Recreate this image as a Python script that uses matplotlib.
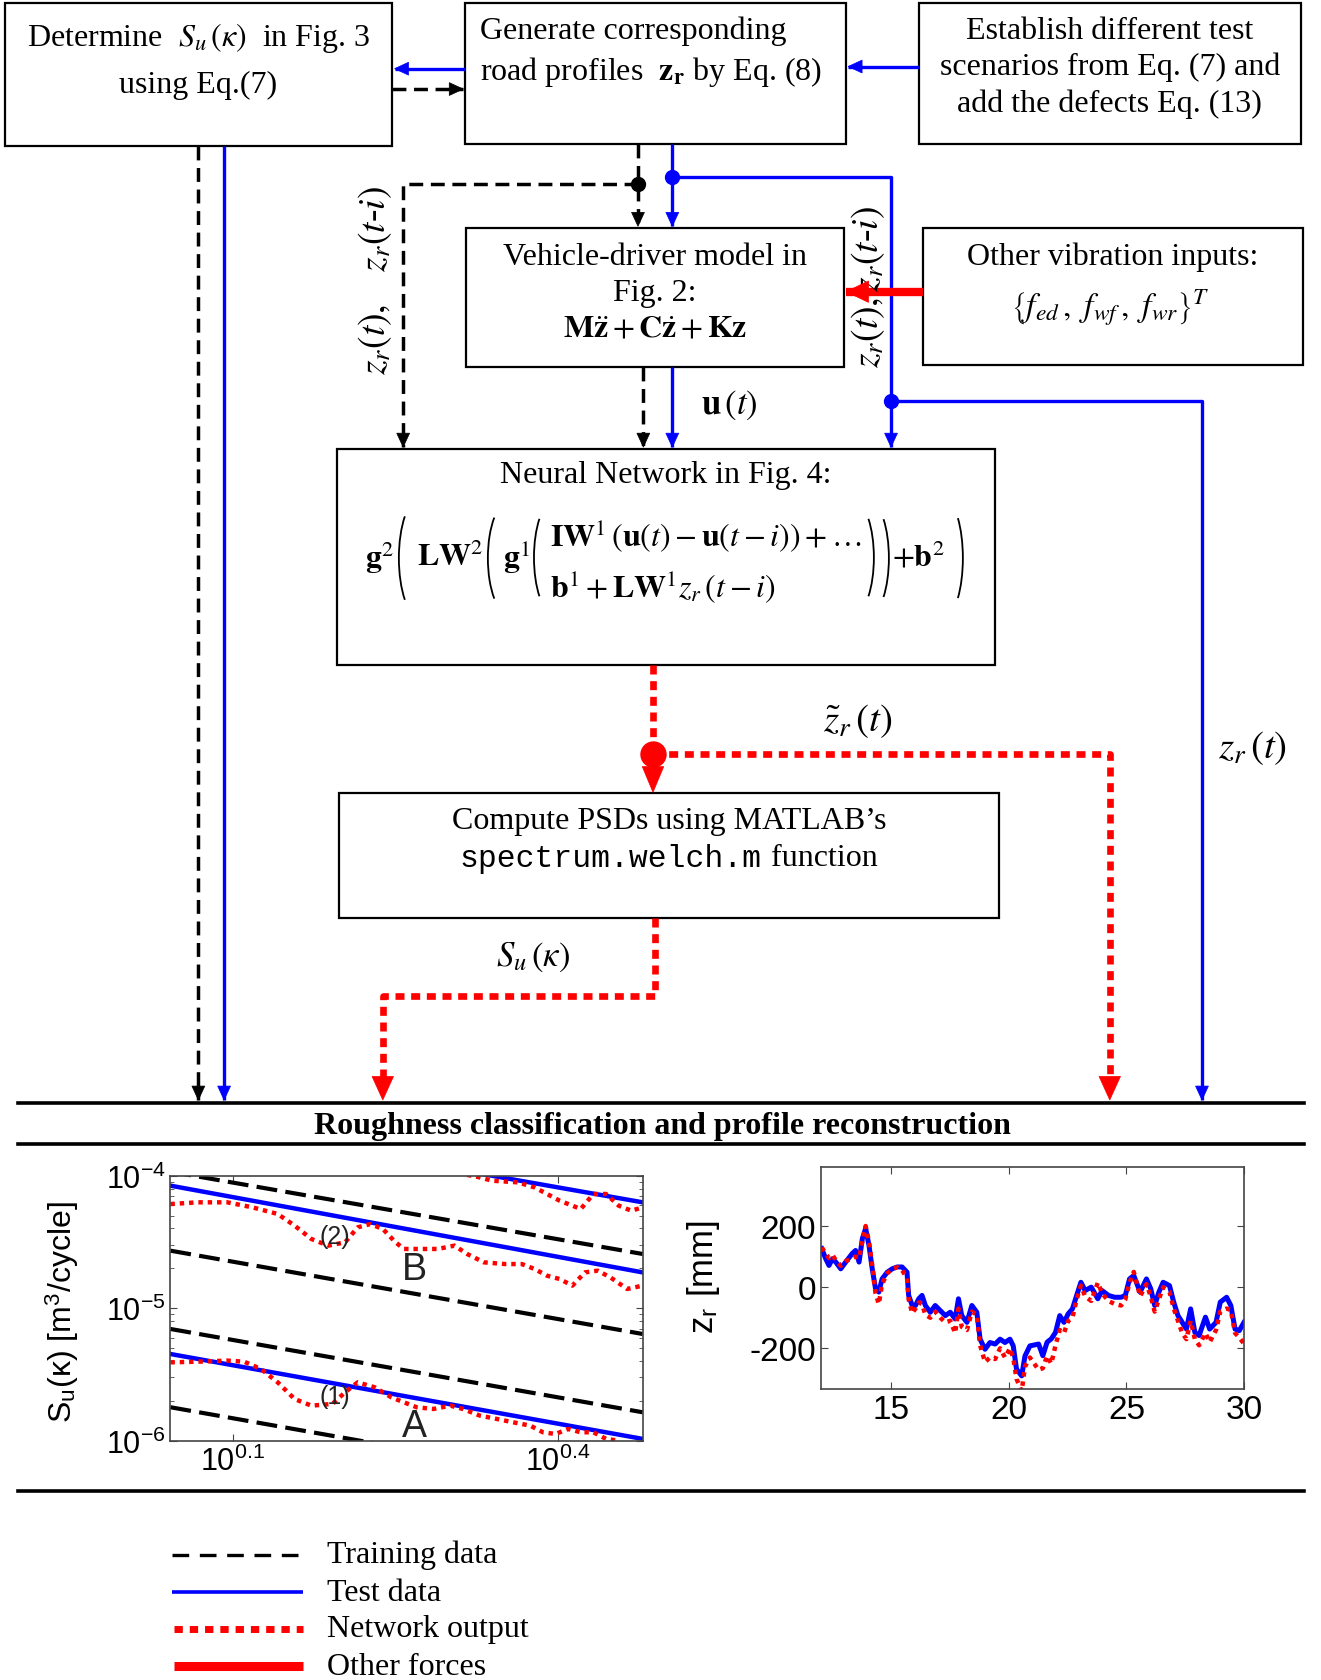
import matplotlib as mpl
mpl.use('Agg')
import numpy as np
import matplotlib.pyplot as plt
from matplotlib.patches import Rectangle, Polygon, Arc
from matplotlib.ticker import NullLocator

plt.rcParams['font.family'] = 'Liberation Serif'
plt.rcParams['mathtext.fontset'] = 'stix'
plt.rcParams['axes.unicode_minus'] = False

# ---- PSD panel (log10 wavenumber, log10 PSD) ----
lk_edges = [0.0425, 0.4786]
train_lS = [[-3.970, -4.591], [-4.566, -5.195], [-5.157, -5.786], [-5.748, -6.377]]
test_lS = [[-3.572, -4.201], [-4.075, -4.730], [-5.346, -5.987]]

net_top_lk = [0.2737, 0.2932, 0.3243, 0.3398, 0.3631, 0.3787, 0.3903, 0.4020,
              0.4137, 0.4214, 0.4331, 0.4448, 0.4564, 0.4681, 0.4786]
net_top_lS = [-3.975, -3.962, -4.005, -4.038, -4.050, -4.088, -4.138, -4.189,
              -4.226, -4.252, -4.138, -4.138, -4.226, -4.264, -4.239]

net_b_lk = [0.0425, 0.0678, 0.0950, 0.1183, 0.1416, 0.1572, 0.1727, 0.1882, 0.2038, 0.2154,
            0.2271, 0.2388, 0.2504, 0.2582, 0.2737, 0.2893, 0.3048, 0.3165, 0.3320, 0.3515,
            0.3670, 0.3787, 0.3903, 0.4020, 0.4137, 0.4253, 0.4370, 0.4487, 0.4642, 0.4786]
net_b_lS = [-4.214, -4.201, -4.201, -4.239, -4.289, -4.377, -4.478, -4.528, -4.503, -4.390,
            -4.365, -4.403, -4.503, -4.553, -4.553, -4.553, -4.528, -4.591, -4.654, -4.667,
            -4.667, -4.704, -4.755, -4.780, -4.830, -4.730, -4.717, -4.767, -4.855, -4.830]

net_a_lk = [0.0425, 0.0678, 0.0950, 0.1105, 0.1261, 0.1416, 0.1572, 0.1727, 0.1921, 0.2038,
            0.2154, 0.2310, 0.2465, 0.2582, 0.2699, 0.2854, 0.3009, 0.3126, 0.3282, 0.3437,
            0.3593, 0.3748, 0.3865, 0.3981, 0.4098, 0.4214, 0.4331, 0.4448, 0.4564]
net_a_lS = [-5.409, -5.404, -5.396, -5.404, -5.459, -5.560, -5.686, -5.736, -5.723, -5.635,
            -5.560, -5.597, -5.673, -5.711, -5.748, -5.761, -5.736, -5.761, -5.811, -5.836,
            -5.862, -5.887, -5.937, -5.950, -5.912, -5.937, -5.937, -5.987, -6.000]

psd_labels = ['(2)', 'B', '(1)', 'A']
psd_label_lk = [0.194, 0.268, 0.194, 0.268]
psd_label_lS = [-4.453, -4.704, -5.660, -5.887]

# ---- road profile panel ----
prof_x = [12.03, 12.20, 12.34, 12.49, 12.63, 12.84, 13.05, 13.33, 13.47, 13.62,
          13.76, 13.90, 14.04, 14.18, 14.32, 14.46, 14.60, 14.82, 15.03, 15.24,
          15.45, 15.66, 15.73, 15.88, 16.02, 16.16, 16.30, 16.44, 16.65, 16.86,
          17.08, 17.29, 17.50, 17.71, 17.85, 17.99, 18.21, 18.42, 18.63, 18.77,
          18.98, 19.19, 19.41, 19.62, 19.83, 20.04, 20.18, 20.32, 20.54, 20.68,
          20.89, 21.26, 21.44, 21.62, 21.80, 21.98, 22.16, 22.34, 22.52, 22.70,
          22.88, 23.06, 23.24, 23.50, 23.78, 23.96, 24.23, 24.50, 24.77, 24.95,
          25.13, 25.31, 25.58, 25.85, 26.03, 26.20, 26.38, 26.56, 26.83, 27.01,
          27.19, 27.37, 27.55, 27.73, 27.91, 28.09, 28.36, 28.54, 28.81, 28.99,
          29.26, 29.44, 29.62, 29.80, 30.00]
prof_test = [126, 93, 71, 93, 82, 60, 82, 110, 120, 82,
             159, 192, 137, 60, -5, -16, 27, 49, 60, 66,
             66, 49, -27, -60, -60, -38, -27, -60, -82, -60,
             -77, -93, -82, -104, -38, -93, -115, -60, -82, -170,
             -203, -181, -186, -170, -181, -170, -192, -268, -290, -225,
             -192, -186, -224, -180, -169, -148, -93, -115, -87, -71,
             -27, 16, -11, 0, -38, -11, -27, -33, -33, -27,
             27, 38, -16, 27, -5, -60, -16, 16, 5, -49,
             -93, -115, -137, -71, -148, -158, -98, -137, -115, -49,
             -33, -60, -137, -142, -115]
prof_net = [130, 110, 95, 105, 88, 70, 85, 95, 100, 95,
            150, 200, 150, 70, -20, -55, 10, 45, 60, 65,
            55, 30, -40, -85, -70, -50, -55, -90, -100, -80,
            -100, -115, -110, -150, -70, -130, -140, -80, -90, -190,
            -245, -230, -235, -200, -230, -200, -230, -300, -340, -260,
            -230, -270, -265, -225, -250, -190, -140, -150, -110, -100,
            -40, 5, -30, -45, 15, -20, -45, -55, -60, -40,
            15, 50, -30, 10, -30, -80, -40, 0, -15, -70,
            -110, -150, -170, -110, -170, -190, -150, -180, -140, -80,
            -70, -75, -150, -165, -185]

legend_names = ['Training data', 'Test data', 'Network output', 'Other forces']

BLUE = '#0000ff'
RED = '#ff0000'
DASH = (0, (4, 2.2))
DOTS = (0, (1.35, 1.0))

fig = plt.figure(figsize=(13.21, 16.81), dpi=100)
ax = fig.add_axes([0, 0, 1, 1])
ax.set_xlim(0, 1232)
ax.set_ylim(1568, 0)
ax.axis('off')


def box(x0, y0, x1, y1):
    ax.add_patch(Rectangle((x0, y0), x1 - x0, y1 - y0, fill=False, lw=1.6, ec='black'))


def head(x, y, d, c, L=13, W=6):
    if d == 'd':
        pts = [(x, y), (x - W, y - L), (x + W, y - L)]
    elif d == 'l':
        pts = [(x, y), (x + L, y - W), (x + L, y + W)]
    else:
        pts = [(x, y), (x - L, y - W), (x - L, y + W)]
    ax.add_patch(Polygon(pts, closed=True, fc=c, ec=c, lw=0.5, zorder=4))


def path(xs, ys, c, ls='-', lw=2.4, tip=None, L=13, W=6):
    ax.plot(xs, ys, color=c, ls=ls, lw=lw, solid_capstyle='butt',
            dash_capstyle='butt', zorder=3)
    if tip:
        head(xs[-1], ys[-1], tip, c, L, W)


def paren(x0, x1, y0, y1, side):
    w = x1 - x0
    a = w / 0.658
    b = (y1 - y0) / 1.88
    cy = (y0 + y1) / 2
    if side == 'l':
        ax.add_patch(Arc((x0 + a, cy), 2 * a, 2 * b, theta1=110, theta2=250, lw=1.3))
    else:
        ax.add_patch(Arc((x1 - a, cy), 2 * a, 2 * b, theta1=-70, theta2=70, lw=1.3))


FS = 23

# boxes
box(5, 4, 366, 137)
box(434, 4, 789, 135)
box(857, 4, 1213, 135)
box(435, 214, 787, 343)
box(861, 214, 1215, 341)
box(314, 420, 928, 621)
box(316, 741, 932, 857)

ax.text(185, 35, r'Determine  $S_u\,(\kappa)$  in Fig. 3', ha='center', va='center', fontsize=FS)
ax.text(185, 80, 'using Eq.(7)', ha='center', va='center', fontsize=FS)
ax.text(448, 29, 'Generate corresponding', ha='left', va='center', fontsize=FS)
ax.text(448, 67, r'road profiles  $\mathbf{z}_\mathbf{r}$ by Eq. (8)', ha='left', va='center', fontsize=FS)
ax.text(1035, 29, 'Establish different test', ha='center', va='center', fontsize=FS)
ax.text(1035, 63, 'scenarios from Eq. (7) and', ha='center', va='center', fontsize=FS)
ax.text(1035, 97, 'add the defects Eq. (13)', ha='center', va='center', fontsize=FS)
ax.text(611, 240, 'Vehicle-driver model in', ha='center', va='center', fontsize=FS)
ax.text(611, 274, 'Fig. 2:', ha='center', va='center', fontsize=FS)
ax.text(611, 308, r'$\mathbf{M}\ddot{\mathbf{z}}+\mathbf{C}\dot{\mathbf{z}}+\mathbf{K}\mathbf{z}$',
        ha='center', va='center', fontsize=FS)
ax.text(1038, 240, 'Other vibration inputs:', ha='center', va='center', fontsize=FS)
ax.text(1035, 287, r'$\left\{f_{ed}\,,\ f_{wf}\,,\ f_{wr}\right\}^T$', ha='center', va='center', fontsize=24)
ax.text(621, 444, 'Neural Network in Fig. 4:', ha='center', va='center', fontsize=FS)

# network expression
ax.text(340, 520, r'$\mathbf{g}^2$', ha='left', va='center', fontsize=FS)
paren(372, 385, 469, 574, 'l')
ax.text(389, 520, r'$\mathbf{LW}^2$', ha='left', va='center', fontsize=FS)
paren(455, 468, 472, 571, 'l')
ax.text(469, 520, r'$\mathbf{g}^1$', ha='left', va='center', fontsize=FS)
paren(498, 510, 472, 570, 'l')
ax.text(513, 500, r'$\mathbf{IW}^1\,(\mathbf{u}(t)-\mathbf{u}(t-i))+\ldots$', ha='left', va='center', fontsize=FS)
ax.text(513, 547, r'$\mathbf{b}^1+\mathbf{LW}^1z_r\,(t-i)$', ha='left', va='center', fontsize=FS)
paren(803, 815, 472, 570, 'r')
paren(817, 829, 472, 571, 'r')
ax.text(832, 520, r'$+\mathbf{b}^2$', ha='left', va='center', fontsize=FS)
paren(886, 898, 469, 574, 'r')

ax.text(624, 766, 'Compute PSDs using MATLAB\u2019s', ha='center', va='center', fontsize=FS)
ax.text(428, 801, 'spectrum.welch.m', ha='left', va='center', fontsize=22.6,
        family='Liberation Mono')
ax.text(719, 801, 'function', ha='left', va='center', fontsize=FS)

# links between the top boxes
path([434, 368], [65, 65], BLUE, tip='l')
path([366, 432], [84, 84], 'black', ls=DASH, lw=2.5, tip='r')
path([857, 791], [63, 63], BLUE, tip='l')

# long feeds to the bottom block
path([185, 185], [137, 1027], 'black', ls=DASH, lw=2.5, tip='d')
path([209, 209], [137, 1027], BLUE, tip='d')

# from road profile generator
path([595, 595], [135, 212], 'black', ls=DASH, lw=2.5, tip='d')
path([595, 376, 376], [173, 173, 418], 'black', ls=DASH, lw=2.5, tip='d')
ax.plot(595, 173, 'o', color='black', ms=10, zorder=5)
path([627, 627], [135, 212], BLUE, tip='d')
path([627, 831, 831], [166, 166, 418], BLUE, tip='d')
ax.plot(627, 166, 'o', color=BLUE, ms=10, zorder=5)
path([831, 1121, 1121], [375, 375, 1027], BLUE, tip='d')
ax.plot(831, 375, 'o', color=BLUE, ms=10, zorder=5)

# vehicle model outputs
path([600, 600], [343, 418], 'black', ls=DASH, lw=2.5, tip='d')
path([627, 627], [343, 418], BLUE, tip='d')
ax.text(680, 378, r'$\mathbf{u}\,(t)$', ha='center', va='center', fontsize=25)

# other forces
path([861, 789], [273, 273], RED, lw=6, tip='l', L=21, W=10)

ax.text(350, 262, r'$z_r(t),\ \ \ z_r(t$-$i)$', rotation=90, ha='center', va='center', fontsize=27)
ax.text(810, 268, r'$z_r(t), z_r(t$-$i)$', rotation=90, ha='center', va='center', fontsize=27)

# network output
path([609, 609], [621, 712], RED, ls=DOTS, lw=4.8)
head(609, 740, 'd', RED, L=24, W=10)
ax.plot(609, 704, 'o', color=RED, ms=18, zorder=5)
path([609, 1035, 1035], [704, 704, 1008], RED, ls=DOTS, lw=4.8)
head(1035, 1027, 'd', RED, L=22, W=10)
ax.text(800, 673, r'$\tilde{z}_r\,(t)$', ha='center', va='center', fontsize=28)
ax.text(1168, 698, r'$z_r\,(t)$', ha='center', va='center', fontsize=28)

path([611, 611, 357, 357], [857, 930, 930, 1008], RED, ls=DOTS, lw=4.8)
head(357, 1027, 'd', RED, L=22, W=10)
ax.text(497, 893, r'$S_u\,(\kappa)$', ha='center', va='center', fontsize=25)

# bottom block
for yy in [1030, 1068, 1392]:
    ax.plot([17, 1216], [yy, yy], color='black', lw=2.6)
ax.text(618, 1051, 'Roughness classification and profile reconstruction',
        ha='center', va='center', fontsize=23, fontweight='bold')

# legend
ly = [1451, 1486, 1520, 1555]
ax.plot([160, 283], [ly[0], ly[0]], color='black', lw=2.4, ls=(0, (5, 3.2)), dash_capstyle='butt')
ax.plot([160, 283], [ly[1], ly[1]], color=BLUE, lw=2.6, solid_capstyle='butt')
ax.plot([162, 283], [ly[2], ly[2]], color=RED, lw=5, ls=(0, (1.2, 1.0)), dash_capstyle='butt')
ax.plot([162, 283], [ly[3], ly[3]], color=RED, lw=6.5, solid_capstyle='butt')
for yy, name in zip(ly, legend_names):
    ax.text(305, yy, name, ha='left', va='center', fontsize=FS)

# PSD panel
sans = 'Liberation Sans'
axl = fig.add_axes([0.129, 0.1424, 0.3575, 0.1576])
ke = 10 ** np.array(lk_edges)
for s in train_lS:
    axl.plot(ke, 10 ** np.array(s), color='black', lw=3, ls=(0, (5, 2)))
for s in test_lS:
    axl.plot(ke, 10 ** np.array(s), color=BLUE, lw=3.2)
for lk, ls_ in [(net_top_lk, net_top_lS), (net_b_lk, net_b_lS), (net_a_lk, net_a_lS)]:
    axl.plot(10 ** np.array(lk), 10 ** np.array(ls_), color=RED, lw=3.2, ls=(0, (1, 1.1)))
for t, lk, ls_ in zip(psd_labels, psd_label_lk, psd_label_lS):
    axl.text(10 ** lk, 10 ** ls_, t, ha='center', va='center', family=sans,
             fontsize=18 if t.startswith('(') else 27, color='#222222')
axl.set_xscale('log')
axl.set_yscale('log')
axl.set_xlim(10 ** lk_edges[0], 10 ** lk_edges[1])
axl.set_ylim(1e-6, 1e-4)
axl.set_xticks([10 ** 0.1, 10 ** 0.4])
axl.set_xticklabels([r'$\mathregular{10^{0.1}}$', r'$\mathregular{10^{0.4}}$'])
axl.xaxis.set_minor_locator(NullLocator())
axl.set_yticks([1e-6, 1e-5, 1e-4])
axl.set_yticklabels([r'$\mathregular{10^{-6}}$', r'$\mathregular{10^{-5}}$', r'$\mathregular{10^{-4}}$'])
axl.set_ylabel(r'S$_\mathregular{u}$(κ) [m$^\mathregular{3}$/cycle]', family=sans, fontsize=23)
axl.yaxis.set_label_coords(-0.19, 0.49)

# road profile panel
axr = fig.add_axes([0.6215, 0.1731, 0.3202, 0.1321])
axr.plot(prof_x, prof_test, color=BLUE, lw=3.6)
axr.plot(prof_x, prof_net, color=RED, lw=3.2, ls=(0, (1, 1.1)))
axr.set_xlim(12, 30)
axr.set_ylim(-333, 393)
axr.set_xticks([15, 20, 25, 30])
axr.set_yticks([-200, 0, 200])
axr.set_ylabel(r'z$_\mathregular{r}$ [mm]', family=sans, fontsize=25)
axr.yaxis.set_label_coords(-0.235, 0.51)

for a, size in ((axl, 22), (axr, 24)):
    a.tick_params(which='both', direction='in', top=True, right=True, labelsize=size,
                  color='#444444')
    a.tick_params(which='major', length=5)
    a.tick_params(which='minor', length=3)
    for lab in a.get_xticklabels() + a.get_yticklabels():
        lab.set_family(sans)
    for sp in a.spines.values():
        sp.set_color('#444444')
        sp.set_linewidth(1.2)

fig.savefig('out.png', dpi=100, facecolor='w')
